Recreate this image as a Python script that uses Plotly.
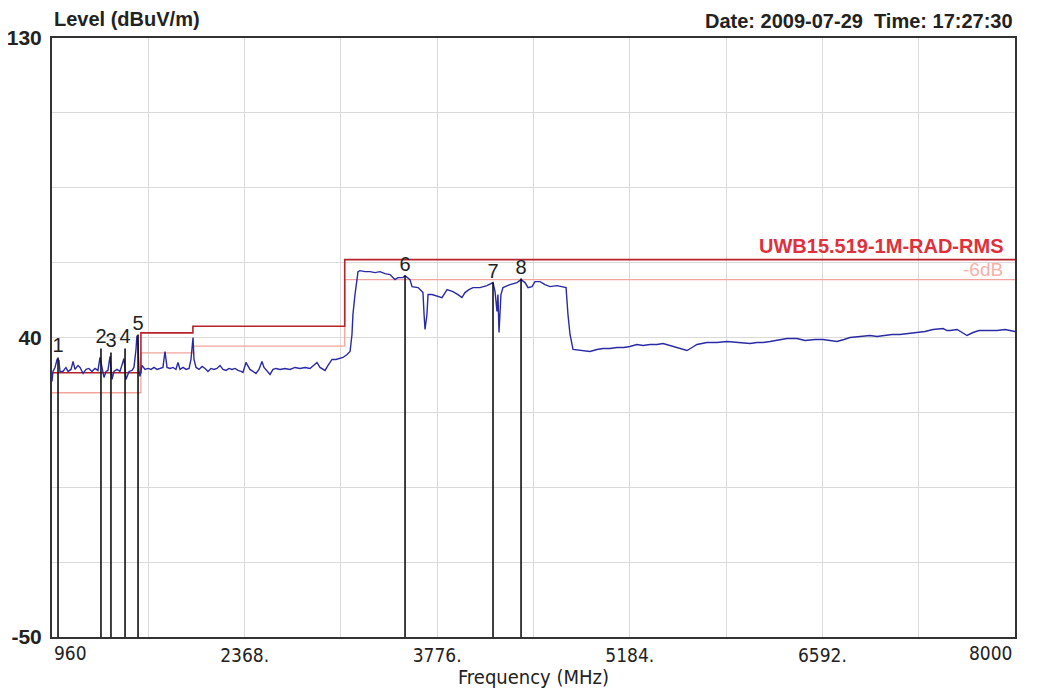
import plotly.graph_objects as go

# ---------------- data ----------------
freq_mhz = [960, 967, 982, 997, 1011, 1018, 1040, 1062, 1077, 1099, 1114, 1128, 1150, 1165, 1187, 1209,
            1230, 1252, 1274, 1296, 1311, 1326, 1340, 1355, 1369, 1384, 1399, 1413, 1435, 1457, 1472, 1486,
            1501, 1523, 1545, 1559, 1574, 1581, 1589, 1596, 1603, 1618, 1640, 1662, 1684, 1706, 1728, 1750,
            1771, 1786, 1801, 1823, 1845, 1866, 1881, 1896, 1918, 1940, 1962, 1976, 1991, 1998, 2013, 2035,
            2057, 2079, 2100, 2122, 2144, 2166, 2188, 2210, 2232, 2254, 2276, 2298, 2320, 2342, 2356, 2378,
            2393, 2407, 2429, 2451, 2473, 2495, 2510, 2532, 2554, 2576, 2598, 2627, 2663, 2700, 2736, 2773,
            2810, 2846, 2875, 2897, 2919, 2956, 2978, 3007, 3036, 3065, 3087, 3117, 3139, 3153, 3160, 3175,
            3190, 3197, 3212, 3248, 3285, 3321, 3358, 3394, 3431, 3467, 3489, 3526, 3541, 3563, 3577, 3592,
            3636, 3665, 3672, 3680, 3687, 3701, 3709, 3738, 3782, 3811, 3848, 3891, 3928, 3957, 3979, 4008,
            4038, 4089, 4140, 4184, 4199, 4213, 4220, 4228, 4242, 4257, 4308, 4359, 4389, 4418, 4440, 4469,
            4491, 4528, 4564, 4601, 4652, 4696, 4718, 4732, 4747, 4769, 4820, 4893, 4944, 4988, 5039, 5090,
            5141, 5185, 5236, 5281, 5332, 5383, 5427, 5478, 5529, 5566, 5602, 5639, 5675, 5748, 5821, 5895,
            5968, 6012, 6063, 6114, 6158, 6209, 6260, 6333, 6406, 6465, 6538, 6596, 6648, 6699, 6750, 6794,
            6867, 6940, 6991, 7035, 7101, 7159, 7218, 7284, 7342, 7401, 7474, 7503, 7526, 7577, 7613, 7649,
            7693, 7737, 7817, 7869, 7927, 7963, 8000]
level_dbuv = [26.8, 29.8, 31.0, 33.4, 33.1, 29.8, 29.8, 31.0, 29.8, 30.4, 32.8, 30.4, 31.6, 31.0, 29.2, 30.4,
              30.7, 29.8, 30.7, 30.1, 34.0, 31.0, 28.0, 29.8, 30.1, 34.3, 27.4, 29.8, 30.4, 29.8, 31.6, 33.7,
              27.4, 29.8, 30.1, 31.0, 36.4, 40.6, 37.9, 29.8, 28.3, 31.6, 30.4, 30.7, 30.4, 31.0, 30.4, 30.7,
              31.0, 35.8, 31.0, 30.7, 31.0, 30.4, 32.5, 30.4, 31.0, 30.4, 30.7, 33.4, 40.0, 33.4, 31.0, 30.4,
              31.3, 30.7, 29.8, 30.7, 30.4, 30.7, 31.6, 30.4, 30.1, 30.7, 30.4, 30.7, 30.1, 29.8, 29.5, 32.5,
              31.6, 30.4, 29.8, 29.2, 30.4, 32.8, 31.0, 29.8, 28.9, 30.4, 30.7, 30.4, 30.7, 30.4, 31.0, 30.7,
              31.0, 30.7, 31.6, 32.5, 31.0, 30.1, 31.6, 33.4, 33.4, 33.7, 34.0, 34.9, 35.8, 40.9, 46.9, 52.9,
              58.0, 59.8, 60.1, 59.8, 59.8, 59.5, 59.8, 59.2, 58.9, 57.4, 58.0, 58.0, 58.6, 58.0, 57.4, 55.3,
              55.0, 53.8, 53.5, 46.9, 42.4, 46.9, 52.9, 52.9, 52.3, 52.0, 54.4, 53.8, 52.9, 52.0, 53.5, 54.4,
              55.0, 55.0, 55.6, 56.5, 53.8, 47.8, 52.9, 41.5, 52.9, 55.0, 55.9, 56.5, 57.4, 56.5, 55.0, 55.3,
              56.8, 56.8, 55.9, 55.3, 55.6, 55.3, 55.0, 46.9, 40.9, 36.4, 36.1, 35.8, 36.4, 36.7, 36.7, 37.0,
              37.0, 37.3, 37.9, 37.6, 37.9, 37.9, 38.2, 37.6, 37.0, 36.7, 36.1, 37.0, 37.9, 38.5, 38.5, 38.8,
              38.5, 38.2, 38.2, 38.5, 38.5, 38.8, 39.1, 39.7, 39.7, 39.1, 39.4, 39.4, 39.1, 38.8, 39.4, 40.0,
              40.3, 40.6, 40.3, 40.6, 40.9, 40.9, 41.2, 41.5, 41.8, 42.4, 42.7, 42.1, 42.1, 42.4, 41.5, 40.6,
              41.5, 42.1, 42.1, 42.1, 42.4, 42.1, 41.8]

limit_freq = [960, 1610, 1990, 3100, 8000]
limit_level = [29.4, 41.4, 43.4, 63.4, 63.4]
limit_margin_db = 6.0

marker_labels = ["1", "2", "3", "4", "5", "6", "7", "8"]
marker_freq = [1004, 1318, 1391, 1494, 1589, 3541, 4184, 4389]
marker_level = [34.0, 36.7, 35.5, 36.7, 40.9, 58.6, 56.5, 57.7]

y_min, y_max = -50, 130
y_grid = [-50, -27.5, -5, 17.5, 40, 62.5, 85, 107.5, 130]
y_labels = ["-50", "", "", "", "40", "", "", "", "130"]
x_grid = [960, 1664, 2368, 3072, 3776, 4480, 5184, 5888, 6592, 7296, 8000]
x_labels = ["", "", "2368.", "", "3776.", "", "5184.", "", "6592.", "", ""]

NARROW = "DejaVu Sans Condensed, Liberation Sans Narrow, Arial Narrow, Liberation Sans"
SANS = "Liberation Sans, Arial"

# ---------------- figure ----------------
fig = go.Figure()

fig.add_trace(go.Scatter(
    x=limit_freq, y=[v - limit_margin_db for v in limit_level], mode="lines",
    line=dict(color="#f2a49c", width=1.3, shape="hv"), hoverinfo="skip"))
fig.add_trace(go.Scatter(
    x=limit_freq, y=limit_level, mode="lines",
    line=dict(color="#b8232b", width=1.6, shape="hv"), hoverinfo="skip"))

fig.add_trace(go.Scatter(
    x=freq_mhz, y=level_dbuv, mode="lines",
    line=dict(color="#2a2aa6", width=1.4)))

mx, my = [], []
for f, l in zip(marker_freq, marker_level):
    mx += [f, f, None]
    my += [y_min, l, None]
fig.add_trace(go.Scatter(x=mx, y=my, mode="lines",
                         line=dict(color="#111111", width=1.6), hoverinfo="skip"))
fig.add_trace(go.Scatter(x=marker_freq, y=marker_level, mode="text", text=marker_labels,
                         textposition="top center",
                         textfont=dict(family=SANS, size=20, color="#222222"),
                         hoverinfo="skip"))

# the page body has an 8px margin, so the figure is sized to fit the window
fig.update_layout(
    width=1029, height=681,
    margin=dict(l=44, r=22, t=30, b=52, autoexpand=False),
    paper_bgcolor="white", plot_bgcolor="white",
    showlegend=False,
    font=dict(family=SANS, color="#222222"),
)
fig.update_xaxes(
    range=[960, 8000], tickmode="array", tickvals=x_grid, ticktext=x_labels,
    showgrid=True, gridcolor="#dadada", gridwidth=1, zeroline=False, automargin=False,
    showline=True, mirror=True, linecolor="#333333", linewidth=2,
    ticks="", tickfont=dict(family=NARROW, size=19, color="#222222"),
    title=dict(text="Frequency (MHz)", standoff=2,
               font=dict(family=NARROW, size=20, color="#222222")),
)
fig.update_yaxes(
    range=[y_min, y_max], tickmode="array", tickvals=y_grid, ticktext=y_labels,
    showgrid=True, gridcolor="#dadada", gridwidth=1, zeroline=False, automargin=False,
    showline=True, mirror=True, linecolor="#333333", linewidth=2,
    ticks="", ticklabelstandoff=4,
    tickfont=dict(family=SANS, size=21, color="#222222", weight="bold"),
)

ann_font = dict(family=NARROW, size=19, color="#222222")
fig.add_annotation(x=0, y=0, xref="paper", yref="paper", text="960", showarrow=False,
                   xanchor="left", yanchor="top", yshift=-3, font=ann_font)
fig.add_annotation(x=1, y=0, xref="paper", yref="paper", text="8000", showarrow=False,
                   xanchor="right", yanchor="top", yshift=-3, font=ann_font)

fig.add_annotation(x=0, y=1, xref="paper", yref="paper", text="<b>Level (dBuV/m)</b>",
                   showarrow=False, xanchor="left", yanchor="bottom", yshift=6,
                   font=dict(family=SANS, size=20, color="#222222"))
fig.add_annotation(x=1, y=1, xref="paper", yref="paper",
                   text="<b>Date: 2009-07-29  Time: 17:27:30</b>",
                   showarrow=False, xanchor="right", yanchor="bottom", yshift=4,
                   font=dict(family=SANS, size=20, color="#222222"))

fig.add_annotation(x=0.99, y=limit_level[-1], xref="paper", yref="y",
                   text="<b>UWB15.519-1M-RAD-RMS</b>", showarrow=False,
                   xanchor="right", yanchor="bottom", yshift=1,
                   font=dict(family=SANS, size=20, color="#e0303c"))
fig.add_annotation(x=0.99, y=limit_level[-1], xref="paper", yref="y",
                   text="-6dB", showarrow=False,
                   xanchor="right", yanchor="top", yshift=3,
                   font=dict(family=SANS, size=19, color="#f6b0aa"))

fig.write_html("out.html")
